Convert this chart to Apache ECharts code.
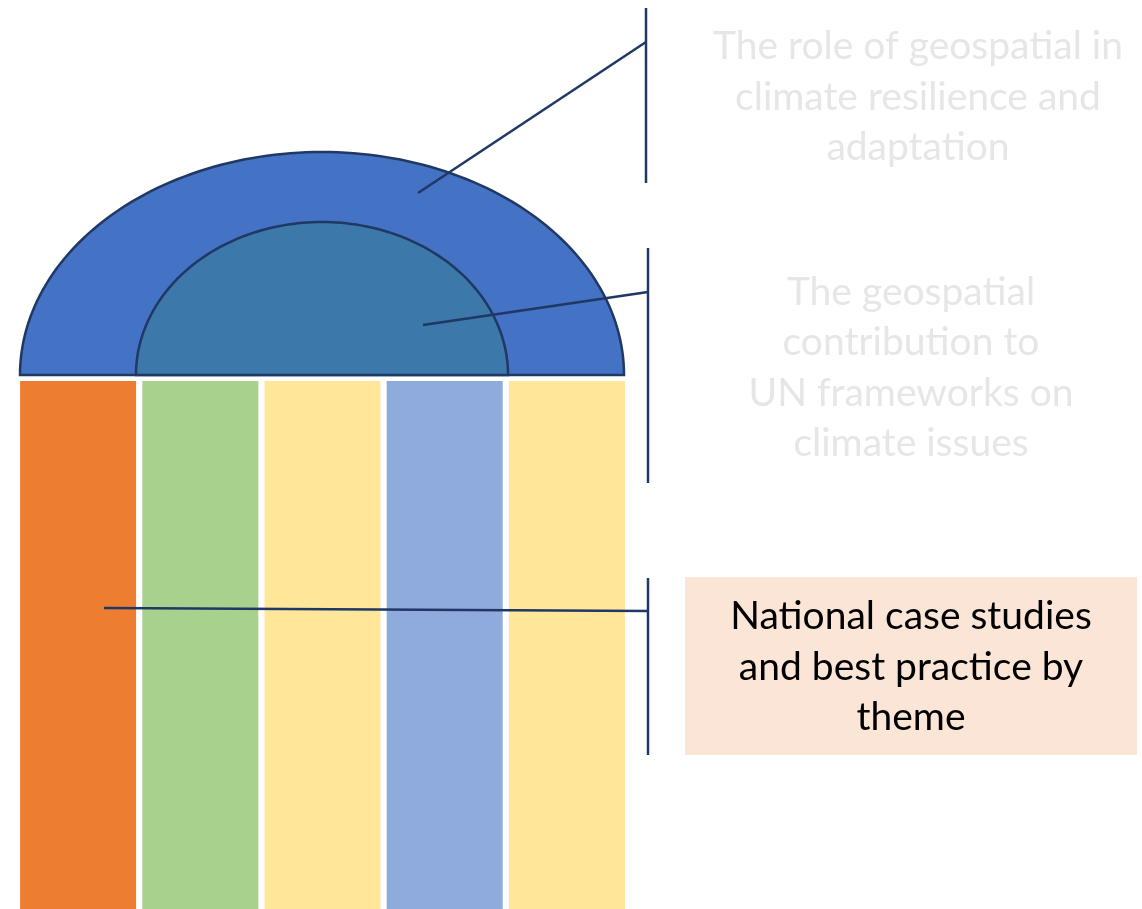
<!DOCTYPE html>
<html>
<head>
<meta charset="utf-8">
<style>
	html, body { margin: 0; padding: 0; background: #fff; }
	#chart { width: 1142px; height: 909px; }
</style>
<script src="https://cdn.jsdelivr.net/npm/echarts@6.0.0/dist/echarts.min.js"></script>
</head>
<body>
<div id="chart"></div>
<script>
// pillars (bottom part)
var columns = ['p1', 'p2', 'p3', 'p4', 'p5'];
var columnValues = [1, 1, 1, 1, 1];
var columnColors = ['#ED7D31', '#A9D18E', '#FFE699', '#8FAADC', '#FFE699'];

// dome rings, radius as share of the outer ring (x, y)
var rings = ['outer', 'inner'];
var ringRx = [1, 0.616];
var ringRy = [1, 0.686];
var ringColors = ['#4472C4', '#3C78A9'];

// callout texts
var calloutLabels = [
	'The role of geospatial in\nclimate resilience and\nadaptation',
	'The geospatial\ncontribution to\nUN frameworks on\nclimate issues',
	'National case studies\nand best practice by\ntheme'
];

var navy = '#1F3864';
var font = '39px Lato';

var chart = echarts.init(document.getElementById('chart'));

chart.setOption({
	animation: false,
	grid: [
		{ left: 17, top: 381, width: 611, height: 528 },
		{ left: 20, top: 152, width: 604, height: 223 }
	],
	xAxis: [
		{ gridIndex: 0, type: 'category', data: columns, show: false },
		{ gridIndex: 1, type: 'value', min: -1, max: 1, show: false }
	],
	yAxis: [
		{ gridIndex: 0, type: 'value', min: 0, max: 1, show: false },
		{ gridIndex: 1, type: 'value', min: 0, max: 1, show: false }
	],
	series: [
		{
			type: 'bar',
			xAxisIndex: 0,
			yAxisIndex: 0,
			barWidth: 116,
			data: columnValues.map(function(v, i) {
				return { value: v, itemStyle: { color: columnColors[i] } };
			})
		},
		{
			type: 'custom',
			xAxisIndex: 1,
			yAxisIndex: 1,
			clip: false,
			data: rings.map(function(name, i) {
				return { name: name, value: [ringRx[i], ringRy[i]] };
			}),
			renderItem: function(params, api) {
				var rx = api.value(0),
					ry = api.value(1),
					pts = [];
				for (var k = 0; k <= 120; k++) {
					var t = Math.PI * k / 120;
					pts.push(api.coord([-rx * Math.cos(t), ry * Math.sin(t)]));
				}
				return {
					type: 'polygon',
					shape: { points: pts },
					style: { fill: ringColors[params.dataIndex], stroke: navy, lineWidth: 2.5 }
				};
			}
		}
	],
	graphic: [
		// callout 1
		{ type: 'line', z: 100, shape: { x1: 418, y1: 193, x2: 646, y2: 42 }, style: { stroke: navy, lineWidth: 2.5 } },
		{ type: 'line', z: 100, shape: { x1: 646, y1: 8, x2: 646, y2: 183 }, style: { stroke: navy, lineWidth: 2.5 } },
		{ type: 'text', z: 100, style: { text: calloutLabels[0], x: 918, y: 97, fill: '#E7E6E6', font: font, lineHeight: 50.5, align: 'center', verticalAlign: 'middle' } },
		// callout 2
		{ type: 'line', z: 100, shape: { x1: 423, y1: 325, x2: 648, y2: 292 }, style: { stroke: navy, lineWidth: 2.5 } },
		{ type: 'line', z: 100, shape: { x1: 648, y1: 248, x2: 648, y2: 483 }, style: { stroke: navy, lineWidth: 2.5 } },
		{ type: 'text', z: 100, style: { text: calloutLabels[1], x: 911, y: 368, fill: '#E7E6E6', font: font, lineHeight: 50.5, align: 'center', verticalAlign: 'middle' } },
		// callout 3
		{ type: 'line', z: 100, shape: { x1: 104, y1: 608, x2: 648, y2: 611 }, style: { stroke: navy, lineWidth: 2.5 } },
		{ type: 'line', z: 100, shape: { x1: 648, y1: 578, x2: 648, y2: 755 }, style: { stroke: navy, lineWidth: 2.5 } },
		{ type: 'rect', z: 90, shape: { x: 685, y: 577, width: 452, height: 178 }, style: { fill: '#FBE5D6' } },
		{ type: 'text', z: 100, style: { text: calloutLabels[2], x: 911, y: 667, fill: '#000', font: font, lineHeight: 50.5, align: 'center', verticalAlign: 'middle' } }
	]
});
</script>
</body>
</html>
